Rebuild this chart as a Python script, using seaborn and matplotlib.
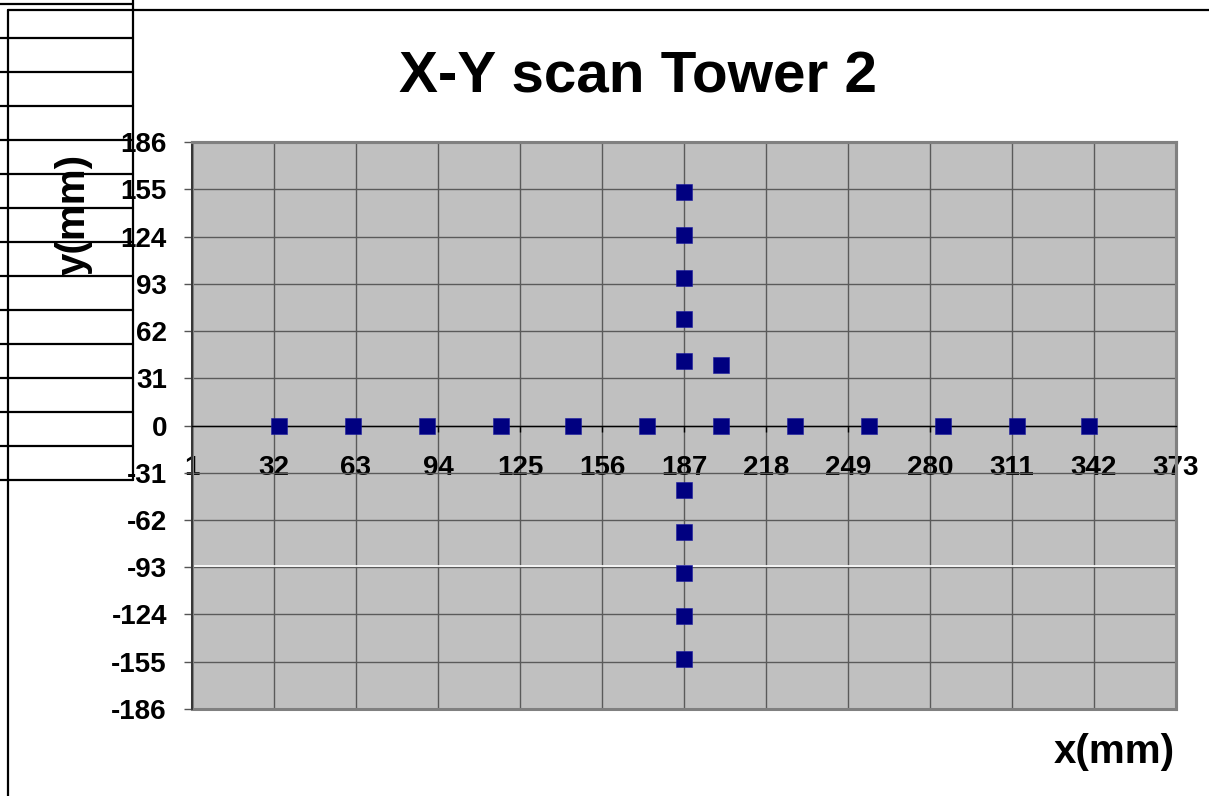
import matplotlib
matplotlib.use('Agg')
import matplotlib.pyplot as plt
import matplotlib.transforms as mtransforms
from matplotlib.lines import Line2D
from matplotlib.patches import Rectangle
import pandas as pd
import seaborn as sns

# Data
x_scan_x = [34, 62, 90, 118, 145, 173, 201, 229, 257, 285, 313, 340]
x_scan_y = [0] * len(x_scan_x)
y_scan_y = [153, 125, 97, 70, 42, -42, -70, -97, -125, -153]
y_scan_x = [187] * len(y_scan_y)
extra_x = [201]
extra_y = [40]

x_ticks = list(range(1, 374, 31))
y_ticks = list(range(-186, 187, 31))

df = pd.DataFrame({'x': x_scan_x + y_scan_x + extra_x,
                   'y': x_scan_y + y_scan_y + extra_y})

sns.set_style('ticks')
plt.rcParams['font.family'] = ['Liberation Sans', 'DejaVu Sans']
plt.rcParams['text.color'] = 'black'
plt.rcParams['xtick.color'] = 'black'
plt.rcParams['ytick.color'] = 'black'

fig = plt.figure(figsize=(12.09, 7.96), dpi=100)
ax = fig.add_axes([0.1588, 0.1093, 0.8139, 0.7123])
ax.set_facecolor('#c0c0c0')

# Scatter
sns.scatterplot(data=df, x='x', y='y', marker='s', s=120, color='#000080',
                edgecolor='#1a1aa0', linewidth=0.4, ax=ax, zorder=4)

# x axis crosses at y = 0 (set before tick labels: it resets the ticks)
ax.spines['bottom'].set_position(('data', 0))
ax.spines['bottom'].set_color('black')
ax.spines['bottom'].set_linewidth(1.0)
ax.spines['bottom'].set_zorder(3)
ax.spines['left'].set_color('#303030')
ax.spines['left'].set_linewidth(1.3)
for side in ['top', 'right']:
    ax.spines[side].set_visible(True)
    ax.spines[side].set_color('#808080')
    ax.spines[side].set_linewidth(2.2)
ax.add_patch(Rectangle((0, 0), 1, 1, transform=ax.transAxes, fill=False,
                       edgecolor='#808080', lw=2.2, clip_on=False, zorder=2))

ax.set_xlim(1, 373)
ax.set_ylim(-186, 186)
ax.set_xticks(x_ticks)
ax.set_yticks(y_ticks)
ax.set_xticklabels([str(t) for t in x_ticks], fontsize=20, fontweight='bold', color='black')
ax.set_yticklabels([str(t) for t in y_ticks], fontsize=20, fontweight='bold', color='black')
ax.set_xlabel('')
ax.set_ylabel('')

ax.grid(True, color='#5a5a5a', linewidth=1.0)
ax.set_axisbelow(True)

# white artifact just above the -93 gridline
off = mtransforms.offset_copy(ax.transData, fig=fig, x=0, y=1.5, units='dots')
ax.plot([1, 373], [y_ticks[3], y_ticks[3]], color='white', lw=1.2,
        transform=off, zorder=1.5)

ax.tick_params(axis='x', direction='out', length=4, width=1, color='black', pad=17)
ax.tick_params(axis='y', direction='out', length=6, width=1, color='#555555', pad=12)

# Titles
fig.text(0.5277, 0.8832, 'X-Y scan Tower 2', fontsize=42, fontweight='bold',
         ha='center', va='baseline', color='black')
fig.text(0.9719, 0.0415, 'x(mm)', fontsize=29, fontweight='bold',
         ha='right', va='baseline', color='black')
fig.text(0.0612, 0.7312, 'y(mm)', fontsize=29, fontweight='bold',
         ha='center', va='center', rotation=90, color='black')

# spreadsheet cell lines at the left
W, H = 1209, 796
def fig_line(x0, y0, x1, y1, lw=1.6):
    fig.add_artist(Line2D([x0 / W, x1 / W], [1 - y0 / H, 1 - y1 / H],
                          color='black', lw=lw))

for k in range(15):
    yy = 4 + 34 * k
    fig_line(0, yy, 133, yy)
fig_line(133, 0, 133, 480)
fig_line(8, 10, 8, 796)
fig_line(8, 10, 1209, 10)

fig.savefig('out.png', dpi=100)
